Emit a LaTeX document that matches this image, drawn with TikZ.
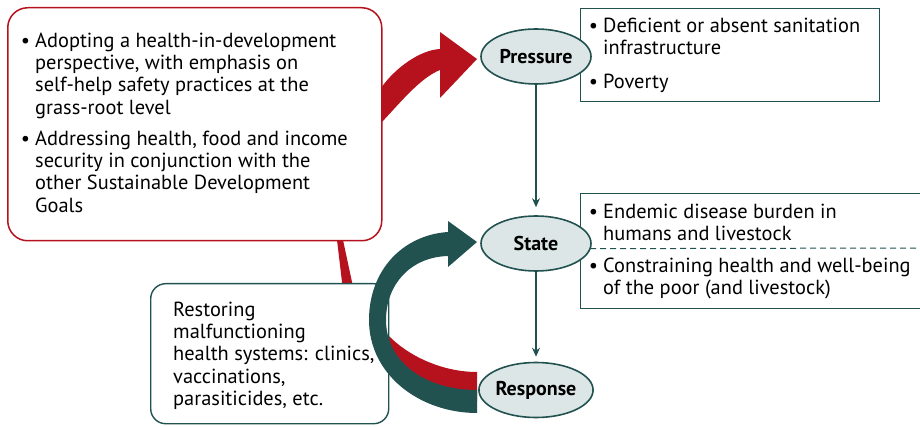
\documentclass[tikz,border=0pt]{standalone}
\usepackage{fontspec}
\setmainfont{PT Sans}
\usetikzlibrary{shapes.geometric,arrows.meta}
\definecolor{fred}{RGB}{182,18,30}
\definecolor{fteal}{RGB}{33,82,80}
\definecolor{ffill}{RGB}{221,230,230}
\begin{document}
\begin{tikzpicture}[x=1pt,y=-1pt,
  font=\fontsize{20.4}{22.3}\selectfont,
  txt/.style={anchor=north west, inner sep=0pt, align=left, text=black},
  ell/.style={ellipse, draw=fteal, line width=1.6pt, fill=ffill,
    minimum width=110pt, minimum height=55pt, inner sep=0pt,
    font=\bfseries\fontsize{20}{22}\selectfont},
  tealbox/.style={draw=fteal, line width=1.4pt, fill=white, inner sep=0pt, anchor=north west},
  thinarrow/.style={draw=fteal, line width=1.3pt, -{Stealth[length=9pt,width=8pt]}},
  bandred/.style={fill=fred},
  bandteal/.style={fill=fteal}]
\useasboundingbox (0,0) rectangle (920,427);
\newcommand{\bul}{\llap{\textbullet\hspace{5pt}}}
\newcommand{\rs}{\rule{0pt}{16pt}}

% red curved band
\fill[bandred] (440,49) .. controls (420,50) and (395,68) .. (381,88)
  .. controls (365,110) and (337,190) .. (337,240)
  -- (342,282)
  .. controls (345,300) and (365,310) .. (377,320)
  .. controls (377,368) and (422,401) .. (477,401)
  -- (477,372)
  .. controls (445,372) and (410,358) .. (388,335)
  .. controls (370,318) and (355,300) .. (352,282)
  -- (343,240)
  .. controls (343,190) and (360,140) .. (381,123)
  .. controls (400,103) and (420,78) .. (440,70)
  -- (440,98) -- (477,59) -- (440,32) -- cycle;

% red box
\node[draw=fred, line width=1.5pt, fill=white, rounded corners=20pt, inner sep=0pt,
  anchor=north west, minimum width=374pt, minimum height=233pt] (redbox) at (7,7) {};

% teal box
\node[tealbox, rounded corners=15pt, minimum width=238pt, minimum height=140pt] (tealbox) at (150,283) {};

% teal curved band
\fill[bandteal] (448,232) .. controls (403,235) and (369,270) .. (369,320)
  .. controls (369,375) and (420,413) .. (477,413)
  -- (477,390)
  .. controls (425,390) and (386,362) .. (386,320)
  .. controls (386,285) and (410,257) .. (448,256)
  -- (448,267) -- (477,242) -- (448,221) -- cycle;

% right boxes
\node[tealbox, minimum width=299pt, minimum height=93pt] (pressbox) at (580,8) {};
\begin{scope}
\clip (0,0) rectangle (920,427);
\node[tealbox, minimum width=360pt, minimum height=115pt] (statebox) at (580,193) {};
\draw[fteal, line width=1pt, dash pattern=on 6pt off 4pt] (statebox.west) ++(0,-2.5) coordinate (dl) -- (920,248);
\end{scope}

% ellipses
\node[ell] (pressure) at (536,56.5) {Pressure};
\node[ell] (state) at (536,243.5) {State};
\node[ell] (response) at (536,390) {Response};

% thin arrows
\draw[thinarrow, shorten >=8pt] (pressure) -- (state);
\draw[thinarrow, shorten >=5pt] (state) -- (response);

% texts
\node[txt] (t1) at (35,31) {\rs\bul Adopting a health-in-development\\perspective, with emphasis on\\self-help safety practices at the\\grass-root level};
\node[txt] (t2) at (35,129) {\rs\bul Addressing health, food and income\\security in conjunction with the\\other Sustainable Development\\Goals};
\node[txt] (t3) at (173,300) {\rs Restoring\\malfunctioning\\health systems: clinics,\\vaccinations,\\parasiticides, etc.};
\node[txt] (t4) at (603,16) {\rs\bul Deficient or absent sanitation\\infrastructure};
\node[txt] (t5) at (603,72) {\rs\bul Poverty};
\node[txt] (t6) at (603,202) {\rs\bul Endemic disease burden in\\humans and livestock};
\node[txt] (t7) at (603,256) {\rs\bul Constraining health and well-being\\of the poor (and livestock)};
\end{tikzpicture}
\end{document}
